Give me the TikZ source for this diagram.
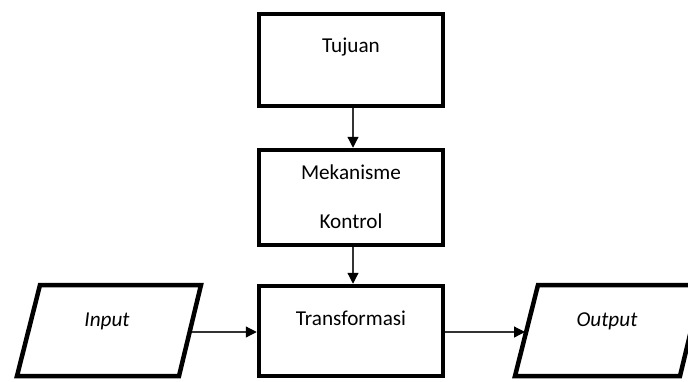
\documentclass[tikz,border=0pt]{standalone}
\usepackage{fontspec}
\setmainfont{Carlito}
\usetikzlibrary{arrows.meta}
\begin{document}
\begin{tikzpicture}[x=1pt,y=-1pt,
  box/.style={draw=black,line width=4.5pt,fill=white,minimum width=184pt,inner sep=0pt},
  lbl/.style={font=\fontsize{21.2}{24}\selectfont,inner sep=0pt},
  arr/.style={draw=black!80,line width=1.2pt,-{Triangle[length=11pt,width=11pt,color=black]}},
  para/.style={draw=black,line width=4.5pt,line join=miter}]
\useasboundingbox (0,0) rectangle (688,381);
\node[box,minimum height=92pt] (tujuan) at (351,60) {};
\node[lbl] (tujuanT) at (351,47) {Tujuan};
\node[box,minimum height=95pt] (mek) at (351,197.5) {};
\node[lbl] (mekT1) at (351,172) {Mekanisme};
\node[lbl] (mekT2) at (351,221) {Kontrol};
\node[box,minimum height=90pt] (trans) at (351,331) {};
\node[lbl] (transT) at (351,318) {Transformasi};
% input parallelogram
\coordinate (iTL) at (40,285);
\coordinate (iTR) at (201,285);
\coordinate (iBR) at (179,376);
\coordinate (iBL) at (17,376);
\draw[para] (iTL) -- (iTR) -- (iBR) -- (iBL) -- cycle;
\node[lbl,font=\fontsize{21.2}{24}\selectfont\itshape] (input) at (107,321) {Input};
\coordinate (inR) at (192,332);
% output parallelogram
\coordinate (oTL) at (538,285);
\coordinate (oTR) at (702,285);
\coordinate (oBR) at (680,376);
\coordinate (oBL) at (515,376);
\draw[para] (oTL) -- (oTR) -- (oBR) -- (oBL) -- cycle;
\node[lbl,font=\fontsize{21.2}{24}\selectfont\itshape] (output) at (607,321) {Output};
\coordinate (outL) at (525,332);
% connectors
\draw[arr] ([xshift=2pt]tujuan.south) -- ([xshift=2pt]mek.north);
\draw[arr] ([xshift=2pt]mek.south) -- ([xshift=2pt]trans.north);
\draw[arr] (inR) -- (inR -| trans.west);
\draw[arr] (outL -| trans.east) -- (outL);
\end{tikzpicture}
\end{document}
